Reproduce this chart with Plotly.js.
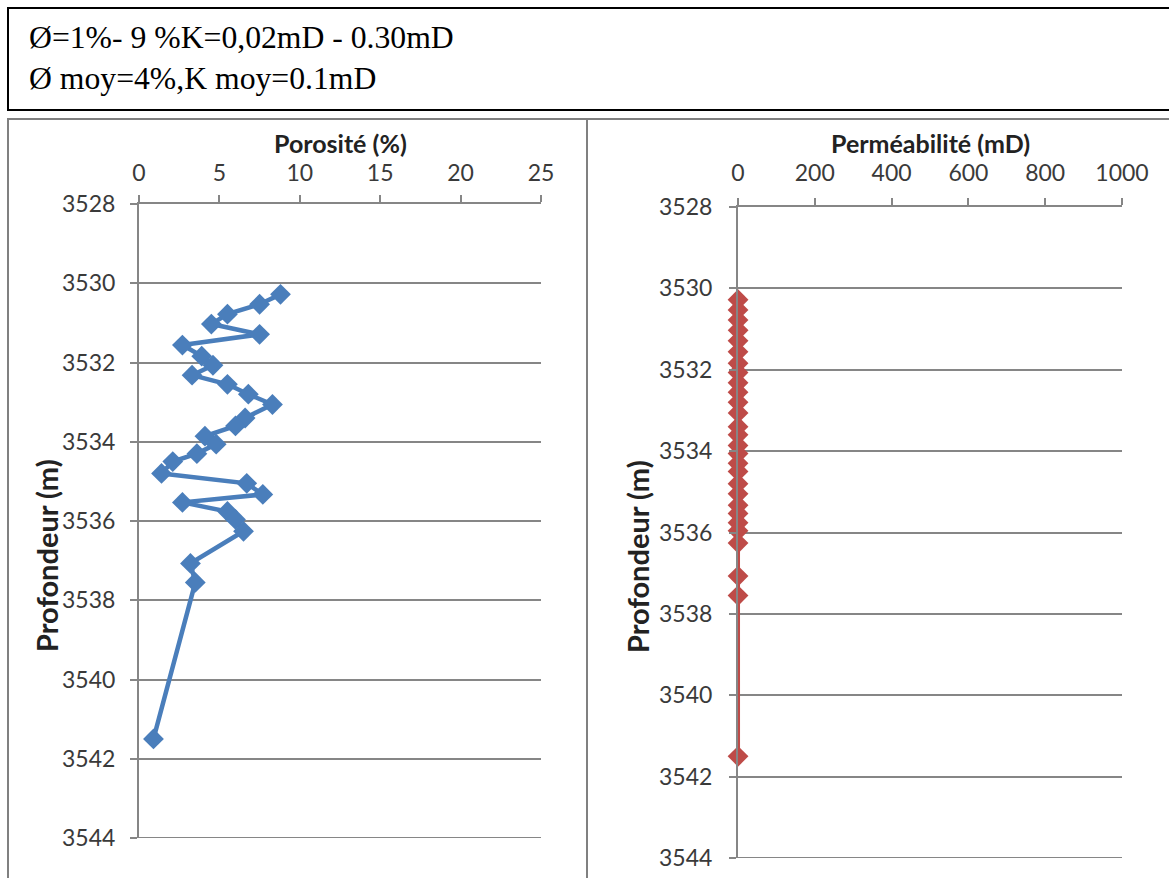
<!DOCTYPE html>
<html><head><meta charset="utf-8">
<script src="https://cdn.plot.ly/plotly-3.0.1.min.js"></script>
<style>html,body{margin:0;padding:0;background:#fff}#chart{width:1169px;height:878px}</style>
</head><body><div id="chart"></div>
<script>
// Data
const depth = [3530.28, 3530.53, 3530.78, 3531.03, 3531.29, 3531.56, 3531.84, 3532.07, 3532.32, 3532.55, 3532.8, 3533.06, 3533.4, 3533.6, 3533.86, 3534.06, 3534.3, 3534.5, 3534.8, 3535.05, 3535.33, 3535.53, 3535.76, 3535.96, 3536.26, 3537.07, 3537.55, 3541.5];
const porosity = [8.8, 7.5, 5.5, 4.5, 7.5, 2.7, 3.9, 4.6, 3.3, 5.5, 6.8, 8.3, 6.6, 6.0, 4.1, 4.8, 3.6, 2.1, 1.4, 6.7, 7.7, 2.7, 5.5, 6.0, 6.5, 3.2, 3.5, 0.9];
const permeability = [0.12, 0.05, 0.08, 0.30, 0.10, 0.02, 0.06, 0.15, 0.09, 0.04, 0.11, 0.20, 0.07, 0.10, 0.03, 0.08, 0.05, 0.13, 0.02, 0.09, 0.18, 0.06, 0.10, 0.12, 0.04, 0.08, 0.05, 0.10];
const porTicks = [0, 5, 10, 15, 20, 25];
const permTicks = [0, 200, 400, 600, 800, 1000];
const depthTicks = [3528, 3530, 3532, 3534, 3536, 3538, 3540, 3542, 3544];
const headerLines = ["Ø=1%- 9 %K=0,02mD - 0.30mD", "Ø moy=4%,K moy=0.1mD"];
const titles = {por: "Porosité (%)", perm: "Perméabilité (mD)", depth: "Profondeur (m)"};

const W = 1169, H = 878;
const px = v => v / W, py = v => 1 - v / H;
const grey = '#868686';
const tickFont = {family: 'Lato, Carlito, sans-serif', size: 23, color: '#3a3a3a'};
const xTitleFont = {family: 'Lato, Carlito, sans-serif', size: 25, color: '#222', weight: 'bold'};
const yTitleFont = {family: 'Lato, Carlito, sans-serif', size: 29, color: '#222', weight: 'bold'};

const traces = [
  {x: porosity, y: depth, xaxis: 'x', yaxis: 'y', mode: 'lines+markers', type: 'scatter', cliponaxis: false,
   line: {color: '#4A7EBB', width: 4.5}, marker: {symbol: 'diamond', size: 16, color: '#4A7EBB'}},
  {x: permeability, y: depth, xaxis: 'x2', yaxis: 'y2', mode: 'lines+markers', type: 'scatter', cliponaxis: false,
   line: {color: '#BE4B48', width: 4}, marker: {symbol: 'diamond', size: 16, color: '#BE4B48'}}
];

function xax(dom, rng, ticks, anchor, standoff) {
  return {domain: dom, range: rng, side: 'top', anchor: anchor,
    tickvals: ticks, ticktext: ticks.map(String), showgrid: false, zeroline: false,
    showline: true, linecolor: grey, linewidth: 2, ticks: 'outside', ticklen: 7, tickwidth: 2, tickcolor: grey,
    tickfont: tickFont, ticklabelstandoff: standoff, fixedrange: true};
}
function yax(dom, anchor, standoff) {
  return {domain: dom, range: [3544, 3528], anchor: anchor, tickvals: depthTicks, ticktext: depthTicks.map(String),
    showgrid: true, gridcolor: grey, gridwidth: 2, zeroline: false,
    showline: true, linecolor: grey, linewidth: 2, ticks: 'outside', ticklen: 7, tickwidth: 2, tickcolor: grey,
    tickfont: tickFont, ticklabelstandoff: standoff, fixedrange: true};
}

const titleAnn = (text, x, y, font, angle) => ({text: text, xref: 'paper', yref: 'paper', x: px(x), y: py(y),
  xanchor: 'center', yanchor: 'middle', showarrow: false, textangle: angle, font: font});

const layout = {
  width: W, height: H, margin: {l: 0, r: 0, t: 0, b: 0}, showlegend: false,
  paper_bgcolor: '#fff', plot_bgcolor: '#fff',
  xaxis: xax([px(139), px(541)], [0, 25], porTicks, 'y', 5),
  xaxis2: xax([px(738), px(1122)], [0, 1000], permTicks, 'y2', 8),
  yaxis: yax([py(838), py(204)], 'x', 10),
  yaxis2: yax([py(858), py(207)], 'x2', 12),
  shapes: [
    {type: 'rect', xref: 'paper', yref: 'paper', x0: px(8), x1: px(1180), y0: py(110), y1: py(8), line: {color: '#000', width: 2}},
    {type: 'rect', xref: 'paper', yref: 'paper', x0: px(8), x1: px(587), y0: py(890), y1: py(119), line: {color: '#808080', width: 2}},
    {type: 'rect', xref: 'paper', yref: 'paper', x0: px(587), x1: px(1180), y0: py(890), y1: py(119), line: {color: '#808080', width: 2}},
    {type: 'line', xref: 'x domain', yref: 'y', x0: 0, x1: 1, y0: depthTicks[depthTicks.length - 1], y1: depthTicks[depthTicks.length - 1], line: {color: grey, width: 2}},
    {type: 'line', xref: 'x2 domain', yref: 'y2', x0: 0, x1: 1, y0: depthTicks[depthTicks.length - 1], y1: depthTicks[depthTicks.length - 1], line: {color: grey, width: 2}}
  ],
  annotations: headerLines.map((t, i) => ({
    text: t, xref: 'paper', yref: 'paper', x: px(27), y: py(38 + i * 40), xanchor: 'left', yanchor: 'middle',
    showarrow: false, font: {family: '"Liberation Serif", "Times New Roman", serif', size: 31.7, color: '#000'}
  })).concat([
    titleAnn(titles.por, 340, 143, xTitleFont, 0),
    titleAnn(titles.perm, 930, 143, xTitleFont, 0),
    titleAnn(titles.depth, 46, 556, yTitleFont, -90),
    titleAnn(titles.depth, 637, 557, yTitleFont, -90)
  ])
};

Plotly.newPlot('chart', traces, layout, {displayModeBar: false, staticPlot: true});
</script></body></html>
